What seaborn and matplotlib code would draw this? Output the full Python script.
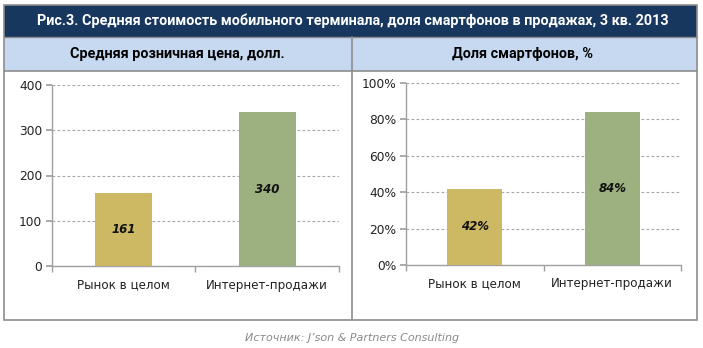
import matplotlib
matplotlib.use("Agg")
import matplotlib.pyplot as plt
from matplotlib.patches import Rectangle
from matplotlib.ticker import FixedLocator, PercentFormatter
import seaborn as sns
import pandas as pd

title = "Рис.3. Средняя стоимость мобильного терминала, доля смартфонов в продажах, 3 кв. 2013"
left_header = "Средняя розничная цена, долл."
right_header = "Доля смартфонов, %"
source = "Источник: J’son & Partners Consulting"

categories = ["Рынок в целом", "Интернет-продажи"]
price_values = [161, 340]
share_values = [42, 84]
price_ticks = [0, 100, 200, 300, 400]
share_ticks = [0, 20, 40, 60, 80, 100]

bar_colors = ["#CDB863", "#9CB080"]
navy = "#17375E"
header_blue = "#C6D9F1"
border = "#8C8C8C"

sns.set_theme(style="white")
plt.rcParams["font.family"] = ["DejaVu Sans"]

W, H = 703, 348
fig = plt.figure(figsize=(W / 100, H / 100), dpi=100)
fig.patch.set_facecolor("white")


def box(x0, y0, x1, y1, **kw):
    fig.patches.append(Rectangle((x0 / W, 1 - y1 / H), (x1 - x0) / W, (y1 - y0) / H,
                                 transform=fig.transFigure, figure=fig, **kw))


# table frame
box(4, 5, 697, 37, facecolor=navy, edgecolor="none")
box(4, 37, 697, 71, facecolor=header_blue, edgecolor="none")
box(4, 5, 697, 320, facecolor="none", edgecolor=border, linewidth=1.2)
fig.add_artist(plt.Line2D([4 / W, 697 / W], [1 - 37 / H, 1 - 37 / H], color=border, lw=1.0))
fig.add_artist(plt.Line2D([4 / W, 697 / W], [1 - 71 / H, 1 - 71 / H], color=border, lw=1.2))
fig.add_artist(plt.Line2D([352 / W, 352 / W], [1 - 37 / H, 1 - 320 / H], color=border, lw=1.2))

head_font = ["Roboto", "DejaVu Sans"]
fig.text(353 / W, 1 - 21 / H, title, color="white", fontsize=10.4, fontweight="bold",
         ha="center", va="center", family=head_font)
fig.text(177 / W, 1 - 54 / H, left_header, color="black", fontsize=10.4, fontweight="bold",
         ha="center", va="center", family=head_font)
fig.text(523 / W, 1 - 54 / H, right_header, color="black", fontsize=10.4, fontweight="bold",
         ha="center", va="center", family=head_font)
fig.text(352 / W, 1 - 338 / H, source, color="#8A8A8A", fontsize=8, style="italic",
         ha="center", va="center")


def make_axes(x0, y0, x1, y1):
    return fig.add_axes([x0 / W, 1 - y1 / H, (x1 - x0) / W, (y1 - y0) / H])


def style_axes(ax, values, ticks, ymax, label_fmt, pct):
    df = pd.DataFrame({"cat": categories, "val": values})
    sns.barplot(data=df, x="cat", y="val", hue="cat", palette=bar_colors, legend=False,
                width=0.4, ax=ax, saturation=1, edgecolor="none", zorder=3)
    ax.set_xlim(-0.5, 1.5)
    ax.set_ylim(0, ymax)
    ax.set_xlabel("")
    ax.set_ylabel("")
    ax.set_facecolor("none")
    ax.yaxis.set_major_locator(FixedLocator(ticks))
    if pct:
        ax.yaxis.set_major_formatter(PercentFormatter(100, decimals=0))
    ax.grid(axis="y", color="#A6A6A6", linestyle=(0, (2.5, 2)), linewidth=0.8, zorder=0)
    for s in ["top", "right"]:
        ax.spines[s].set_visible(False)
    for s in ["left", "bottom"]:
        ax.spines[s].set_color("#A0A0A0")
        ax.spines[s].set_linewidth(1.0)
    ax.tick_params(axis="y", which="major", length=4, color="#A0A0A0", labelsize=8.8,
                   labelcolor="#222222", pad=3, left=True)
    ax.tick_params(axis="x", which="major", length=0, labelsize=8.6, labelcolor="#222222", pad=9)
    ax.xaxis.set_minor_locator(FixedLocator([-0.5, 0.5, 1.5]))
    ax.tick_params(axis="x", which="minor", length=4, color="#A0A0A0", bottom=True)
    for i, v in enumerate(values):
        ax.text(i, v / 2, label_fmt(v), ha="center", va="center", fontsize=8.5,
                fontweight="bold", style="italic", color="#111111", zorder=5)


ax1 = make_axes(52, 85, 339, 266)
style_axes(ax1, price_values, price_ticks, 400, lambda v: f"{v}", False)

ax2 = make_axes(406, 83, 681, 265)
style_axes(ax2, share_values, share_ticks, 100, lambda v: f"{v}%", True)

fig.savefig("out.png", dpi=100, facecolor="white")
